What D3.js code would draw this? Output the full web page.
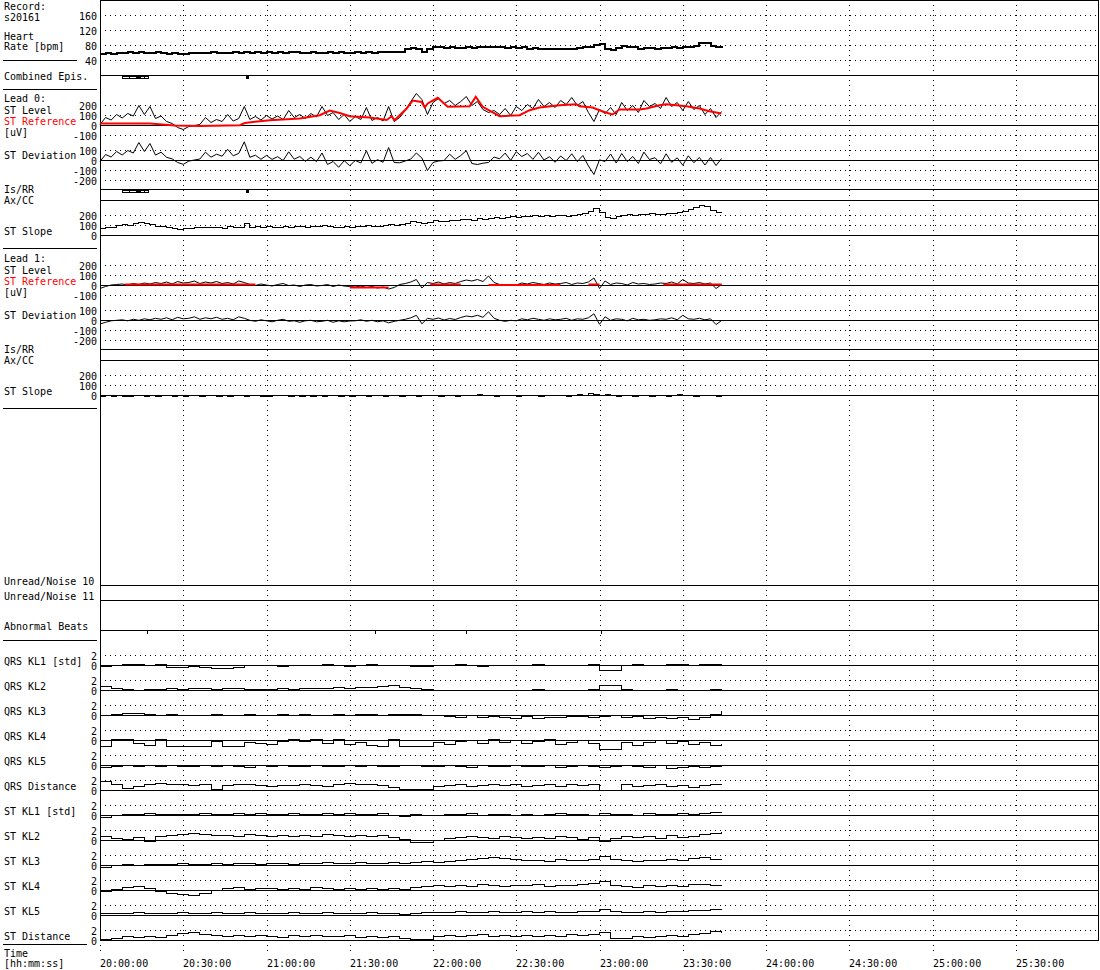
<!DOCTYPE html>
<html><head><meta charset="utf-8">
<script src="https://cdn.jsdelivr.net/npm/d3@7/dist/d3.min.js"></script>
<style>
body{margin:0;background:#fff}
svg{display:block}
text{font-family:"DejaVu Sans Mono","Liberation Mono",monospace;font-size:10px;fill:#000}
</style></head><body>
<svg id="c" width="1100" height="970"></svg>
<script>
// ---------------- data ----------------
const recordName = "s20161";
const timeLabels = ["20:00:00","20:30:00","21:00:00","21:30:00","22:00:00","22:30:00","23:00:00","23:30:00","24:00:00","24:30:00","25:00:00","25:30:00"];
const timeMinutes = [0,30,60,90,120,150,180,210,240,270,300,330];
const hrTicks = [160,120,80,40];
const levelTicks = [200,100,0,-100];
const devTicks = [100,0,-100,-200];
const slopeTicks = [200,100,0];
const klTicks = [2,0];

const STEP = 2;      // minutes between samples of the main series
const KL_STEP = 4;   // minutes between samples of the KL series

const heartRate = [57,60,58,61,59,62,60,63,61,60, 62,60,58,59,57,58,60,59,61, 60,62,59,61,60,62,61,64,
 60,62,61,63,60,62,61,63,62,61, 60,62,61,60,62,61,63,61,60, 62,61,63,60,62,64,63,62,64,
 70,73,71,64,70,75,75,74,76, 74,73,75,74,76,75,77,76,75, 74,76,73,75,72,73,71,72,70,
 71,70,72,71,73,75,76,82,84, 72,67,74,79,75,77,72,74,73, 72,74,73,75,74,76,75,78,86, 88,79,77,74];

const lead0Level = [10,80,55,110,75,120,95,200,110,190, 70,95,40,20,-20,-40,-10,0,10, 80,30,60,40,110,45,70,190,
 60,90,55,100,65,95,60,150,80,110, 70,120,85,190,100,130,60,110,40, 90,60,180,50,80,45,190,40,80,
 150,240,320,260,110,230,270,220,250, 200,240,290,200,240,160,130,150,110, 170,100,190,150,210,170,260,190,230,
 180,250,210,280,200,240,130,40,160, 120,180,110,230,150,200,130,250,190, 220,170,280,190,230,150,240,160,200, 110,170,80,140];
const lead0Dev = [-10,60,35,90,55,100,75,180,90,170, 54,83,32,16,-20,-38,-6,5,15, 83,33,63,43,112,47,71,187,
 32,53,12,51,11,38,0,87,13,40, -8,33,-11,75,-40,-10,-68,-2,-52, 1,-25,98,-28,8,-17,130,-20,-23,
 -5,15,75,25,-100,-20,-5,0,63, 12,50,98,-30,-40,-27,-20,35,17, 74,1,88,40,70,12,82,5,38,
 -18,45,0,67,-10,50,-54,-140,7, -10,65,-25,70,-10,40,-30,84,10, 28,-33,67,-18,27,-47,47,-22,30, -45,30,-50,20];
const lead0Slope = [75,85,80,100,110,105,120,130,125,110, 95,90,80,70,65,70,75,80,80, 85,80,85,75,90,80,85,120,
 85,90,80,95,85,80,90,85,95,90, 85,95,90,100,90,85,80,90,85, 90,95,100,90,95,100,110,100,110,
 125,140,130,125,135,150,140,145,155, 150,160,165,155,170,160,175,180,170, 185,190,180,195,190,200,195,205,195,
 200,205,195,200,210,220,240,275,230, 180,170,190,200,210,205,215,210,220, 215,210,225,220,230,240,260,280,300, 290,250,230,225];
const lead0RefMin = [0,18,27,36,50.4,52.2,55.8,61.2,72,79.2,82.8,86.4,90,97.2,103.3,105.1,106.2,108,110.5,112.7,115.9,117,118.1,121.7,125.3,133.2,135.4,137.9,144,151.2,154.8,158.4,165.6,171.7,172.8,177.5,180,182.5,184.7,187.2,194.4,196.9,201.6,204.1,211.3,216,219.6,223.9];
const lead0RefVal = [20,20,0,-5,3,25,37,53,70,103,150,125,92,80,55,92,53,103,170,250,235,180,220,277,187,193,287,187,93,103,153,180,203,213,193,180,153,127,110,160,160,170,203,213,193,170,143,120];

const lead1Level = [-30,-10,5,10,15,5,20,10,25,15, 30,20,35,15,40,25,30,45,20, 35,25,40,20,30,15,45,30,
 10,0,15,5,-5,10,20,0,5,-10, 5,10,-5,0,10,-10,5,-5,-10, -15,-5,-20,-10,-25,-15,-35,-20,10,
 20,35,60,-25,30,20,35,15,30, 20,40,55,45,60,40,95,30,10, 0,10,5,25,15,30,20,10,25,
 15,20,30,10,25,20,35,75,-30, 45,10,25,20,5,30,15,20,10, 15,25,20,35,15,60,25,20,30, 15,25,-30,10];
const lead1Dev = [-35,-18,-3,2,7,-3,12,2,17,7, 22,12,27,7,32,17,22,37,12, 27,17,32,12,22,7,37,22,
 2,-8,7,-3,-13,2,12,-8,-3,-18, -3,2,-13,-8,2,-18,-3,-13,-5, -3,7,-8,2,-13,-3,-23,-8,2,
 12,27,52,-33,22,12,25,5,20, 10,30,45,37,52,32,87,22,2, -8,2,-3,17,7,22,12,2,17,
 7,12,22,2,17,12,27,67,-38, 37,2,17,12,-3,22,7,12,2, 7,17,12,27,7,52,17,12,22, 7,17,-40,0];
const lead1Slope = [-5,0,-10,5,-5,-10,0,5,-5,0, -10,0,5,-5,0,-10,5,0,-5, 0,5,-5,0,-10,0,5,-5,
 0,5,-5,-10,0,5,0,-5,5,-10, 0,-5,5,-10,0,5,-5,0,-10, 5,0,-5,0,5,-5,0,5,-5,
 0,5,-5,0,5,0,-10,5,0, -5,0,5,0,10,5,0,-5,5, 0,5,-5,0,5,0,-5,5,0,
 5,0,-5,5,10,5,20,15,0, 15,5,-10,0,5,-5,5,0,-5, 0,5,-5,0,10,5,0,-5,5, 0,5,-10,0];
const lead1RefMin = [9,30,56, 56.5, 90,104, 104.5, 119,130, 130.5, 140,166, 166.5, 176,180, 180.5, 203,224];
const lead1RefVal = [10,10,10, null, -20,-20, null, 10,10, null, 5,5, null, 10,10, null, 10,10];

const episodeStart = [7.9,10.6,14.4,16.0];
const episodeEnd   = [10.6,13.3,16.0,17.6];
const markStart = [13.3,52.6];
const markEnd   = [14.4,53.6];
const abnormalBeats = [16.9,99.0,131.8,180.7];

const klNames = ["QRS KL1 [std]","QRS KL2","QRS KL3","QRS KL4","QRS KL5","QRS Distance",
                 "ST KL1 [std]","ST KL2","ST KL3","ST KL4","ST KL5","ST Distance"];
const qrsKL1 = [-0.2,0.1,0.3,0.2,0.1,0.2,-0.3,-0.4,-0.2,-0.3,-0.5,-0.6,-0.3,0,0.1,0,-0.1,0,0.1,0,0.2,0.1,-0.1,0,0.2,0.1,0,0.1,-0.1,-0.2,0.1,0,0.2,0.1,-0.1,0,0.1,0,0.1,0.2,0,0.1,0,0.1,0.2,-1.0,-1.0,0.1,0.2,0,0.1,0.2,0.3,0.1,0.2,0.3,0.3];
const qrsKL2 = [0.8,0.4,0.2,0.1,0.2,0.3,0.4,0.3,0.5,0.4,0.3,0.4,0.5,0.3,0.2,0.3,0.4,0.3,0.4,0.5,0.4,0.6,0.5,0.6,0.7,0.9,1.1,0.6,0.4,0.2,0.1,0,0.1,0,0.1,0,0.1,0,0.1,0.2,0,0.1,0,0.1,0.3,1.1,1.0,0.2,0.1,0,0.1,0.2,0.1,0,0.1,0.2,0.1];
const qrsKL3 = [0,0.2,0.5,0.4,0.2,0.1,0.2,0.1,0,0.1,0.2,0,0.1,0.2,0.1,0,0.2,0.1,0.3,0.1,0,0.2,0.1,0.3,0.2,0.1,0.2,0.3,0.2,0.1,0,-0.2,-0.3,0,-0.4,-0.1,-0.3,-0.5,-0.2,-0.6,-0.3,-0.4,-0.1,-0.2,-0.3,-0.2,0.1,-0.3,-0.2,-0.5,-0.3,-0.6,-0.4,-0.8,-0.3,0.2,0.9];
const qrsKL4 = [-1.1,0.3,0.2,-0.6,-0.9,0.3,-1.2,-1.2,-1.2,-1.2,-0.2,-1.2,-1.2,-0.3,-0.6,-0.8,-0.2,0.2,-0.1,0.3,-0.6,0.2,-0.8,-0.4,-0.9,-1.1,0.3,-1.2,-1.2,-1.2,-0.3,-0.7,-0.2,0.1,-0.5,0.2,-0.4,0,-0.6,-0.2,0.3,-0.8,-0.3,0.1,-0.5,-1.7,-1.7,-0.4,-0.9,-0.3,0.1,-0.6,-0.2,-0.8,-0.4,-1.0,-0.6];
const qrsKL5 = [-0.3,-0.1,0,-0.2,0,-0.1,0,-0.2,-0.1,0,-0.2,0,-0.1,-0.3,0,-0.1,0,-0.2,-0.1,0,-0.1,-0.2,0,-0.1,0,-0.2,-0.1,0,0,-0.1,-0.2,0,-0.1,-0.3,0,-0.2,-0.1,0,-0.2,-0.1,0,-0.3,-0.1,0,-0.2,-0.4,-0.2,0,-0.1,-0.3,0,-0.5,-0.3,-0.1,-0.4,-0.2,-0.1];
const qrsDist = [1.8,1.2,0.4,0.8,1.2,1.4,1.3,1.2,1.1,1.3,0.2,1.1,1.3,1.2,1.0,0.9,1.1,1.0,1.2,1.1,0.9,1.2,1.4,1.2,1.3,1.0,0.7,0.3,0.2,0.3,0.8,1.0,1.2,0.9,1.1,1.3,1.0,1.2,0.8,1.1,1.3,0.9,1.2,1.0,1.3,0.1,0.1,1.2,0.9,1.1,1.2,0.8,1.0,0.7,1.1,1.3,1.2];
const stKL1 = [-0.3,0,0.2,0.3,0.4,0.3,0.2,0.3,0.2,0.4,0.3,0.2,0.4,0.3,0.5,0.3,0.2,0.4,0.3,0.2,0.4,0.3,0.5,0.2,0.3,0.4,0.1,-0.2,0.2,0.1,0,0.3,0.2,0.4,0.1,0.3,0.2,0,0.3,0.1,0.2,0.4,0.3,0.2,0.1,0.5,0.2,0.3,0.1,0.4,0.2,0.3,0.5,0.2,0.4,0.6,0.6];
const stKL2 = [0.8,0.5,0.3,0.6,-0.2,0.9,1.1,1.3,1.4,1.2,1.0,1.1,0.9,1.2,1.0,0.9,1.1,0.8,1.0,0.9,1.2,1.0,0.8,1.1,0.9,1.0,0.7,0.2,-0.4,-0.3,0.1,0.4,0.6,0.9,0.7,0.5,0.8,0.6,0.4,0.7,0.5,0.8,0.6,0.3,0.7,-0.2,0.5,0.9,0.6,0.8,0.5,1.0,0.7,0.9,1.2,1.5,1.8];
const stKL3 = [-0.3,0.1,0.2,0.1,0.2,0.3,0.2,0.4,0.3,0.2,0.4,0.3,0.5,0.4,0.3,0.5,0.4,0.3,0.5,0.4,0.6,0.5,0.4,0.6,0.5,0.4,0.6,0.5,0.7,0.8,0.7,0.9,1.0,1.3,1.5,1.7,1.4,1.2,1.0,1.1,0.9,1.2,1.0,1.1,1.3,1.8,1.2,1.0,0.9,1.1,1.0,1.2,1.1,1.4,1.6,1.3,1.2];
const stKL4 = [-0.2,0.2,0.6,0.9,0.5,-0.2,-0.5,-0.8,-0.9,-0.6,0.1,0.4,0.6,0.3,0.5,0.4,0.2,0.5,0.3,0.6,0.4,0.2,0.5,0.3,0.4,0.2,0.5,0.3,0.6,0.8,1.0,0.9,1.1,0.8,1.2,1.0,0.9,1.1,1.0,1.2,0.9,1.1,1.0,1.2,1.5,1.8,1.0,0.9,0.7,1.0,0.8,1.1,0.9,1.2,1.3,1.0,1.2];
const stKL5 = [0.4,0.5,0.4,0.6,0.5,0.4,0.5,0.6,0.4,0.5,0.6,0.5,0.4,0.6,0.5,0.4,0.5,0.6,0.5,0.4,0.6,0.5,0.4,0.5,0.6,0.5,0.4,0.3,0.5,0.6,0.7,0.6,0.8,0.7,0.6,0.8,0.7,0.6,0.8,0.7,0.9,0.7,0.6,0.8,0.9,1.3,0.8,0.7,0.6,0.8,0.7,0.9,0.8,1.0,1.1,1.2,1.1];
const stDist = [0.3,0.5,0.8,0.6,0.9,0.7,1.1,1.4,1.6,1.3,1.0,0.9,1.1,0.8,1.0,0.9,0.7,1.0,0.8,1.1,0.9,0.8,1.0,0.7,0.9,0.6,0.8,0.4,0.2,0.3,0.8,1.0,0.9,1.1,1.2,0.9,1.0,0.8,1.1,0.9,1.0,0.8,1.2,1.0,1.3,1.7,0.5,0.4,0.8,0.7,0.9,1.0,0.8,1.2,1.5,1.8,1.6];
const klSeries = [qrsKL1,qrsKL2,qrsKL3,qrsKL4,qrsKL5,qrsDist,stKL1,stKL2,stKL3,stKL4,stKL5,stDist];

// ---------------- drawing ----------------
const svg = d3.select("#c");
svg.append("rect").attr("width",1100).attr("height",970).attr("fill","#fff");
const x = d3.scaleLinear().domain([0,360]).range([100,1099]);
const X0 = 100, X1 = 1099;
const gGrid = svg.append("g").attr("shape-rendering","crispEdges");
const gData = svg.append("g");
const gText = svg.append("g");

function hline(y, dotted, x1 = X0, x2 = X1) {
  const l = gGrid.append("line").attr("x1",x1).attr("x2",x2).attr("y1",y).attr("y2",y)
    .attr("stroke","#000").attr("stroke-width",1);
  if (dotted) l.attr("stroke-dasharray","1,4");
  return l;
}
function vline(xx, y1, y2, dotted) {
  const l = gGrid.append("line").attr("x1",xx).attr("x2",xx).attr("y1",y1).attr("y2",y2)
    .attr("stroke","#000").attr("stroke-width",1);
  if (dotted) l.attr("stroke-dasharray","1,4");
}
function label(t, xx, y, color, anchor) {
  gText.append("text").attr("x",xx).attr("y",y).attr("text-anchor",anchor||"start")
    .style("fill",color||"#000").text(t);
}
function tickLabels(ticks, sc) {
  ticks.forEach(v => {
    const yy = sc(v);
    hline(yy, v !== 0);
    label(String(v), 97, yy + 4, "#000", "end");
  });
}
function trace(values, step, sc, opts) {
  opts = opts || {};
  const line = d3.line().curve(opts.step ? d3.curveStepAfter : d3.curveLinear)
    .x((d,i) => x(i*step)).y(d => sc(d));
  gData.append("path").datum(values).attr("d", line)
    .attr("fill","none").attr("stroke","#000").attr("stroke-width",opts.width||1)
    .attr("shape-rendering", opts.step ? "crispEdges" : "auto");
}
function refLine(mins, vals, sc) {
  const pts = mins.map((m,i) => [m, vals[i]]);
  const line = d3.line().defined(d => d[1] !== null).x(d => x(d[0])).y(d => sc(d[1]));
  gData.append("path").datum(pts).attr("d", line)
    .attr("fill","none").attr("stroke","#ff0000").attr("stroke-width",2);
}

// vertical time grid
timeMinutes.forEach(m => {
  const xx = Math.round(x(m)) + 0.5;
  if (m === 0) vline(xx, 940, 951, true);
  else vline(xx, 0, 951, true);
});

// frame
vline(100.5, 0, 941, false);
vline(1098.5, 0, 941, false);
hline(0.5, false);
hline(940.5, false);

// Heart rate
const hrY = d3.scaleLinear().domain([0,200]).range([75.5,0.5]);
hrTicks.forEach(v => { hline(hrY(v), true); label(String(v), 97, hrY(v)+4, "#000", "end"); });
hline(75.5, false);
label("Record:", 4, 10); label(recordName, 4, 20.5);
label("Heart", 4, 39.5); label("Rate [bpm]", 4, 50);
hline(60.5, false, 3, 77);
trace(heartRate, STEP, hrY, {step: true, width: 2});

// Combined episodes
label("Combined Epis.", 4, 80);
hline(89.5, false, 3, 97);
function episodes(top) {
  episodeStart.forEach((s,i) => {
    gData.append("rect").attr("x", Math.round(x(s))+0.5).attr("y", top+0.5)
      .attr("width", Math.max(1, Math.round(x(episodeEnd[i]) - x(s))))
      .attr("height", 2).attr("fill","#fff").attr("stroke","#000").attr("shape-rendering","crispEdges");
  });
  markStart.forEach((s,i) => {
    gData.append("rect").attr("x", Math.round(x(s))).attr("y", top)
      .attr("width", Math.max(2, Math.round(x(markEnd[i]) - x(s)))).attr("height", 3)
      .attr("fill","#000").attr("shape-rendering","crispEdges");
  });
}
episodes(76);

// Lead blocks
function leadBlock(o, name, level, dev, slope, refMin, refVal, showEpis) {
  const lvlY = d3.scaleLinear().domain([0,100]).range([125.5+o,115.5+o]);
  const devY = d3.scaleLinear().domain([0,100]).range([160.5+o,150.5+o]);
  const slpY = d3.scaleLinear().domain([0,100]).range([235.5+o,225.5+o]);
  tickLabels(levelTicks, lvlY);
  tickLabels(devTicks, devY);
  tickLabels(slopeTicks, slpY);
  hline(189.5+o, false);
  hline(200.5+o, false);
  label(name, 4, 101.5+o);
  label("ST Level", 4, 114+o);
  label("ST Reference", 4, 125+o, "#ff0000");
  label("[uV]", 4, 135.5+o);
  label("ST Deviation", 4, 159+o);
  label("Is/RR", 4, 193+o);
  label("Ax/CC", 4, 204+o);
  label("ST Slope", 4, 234.5+o);
  hline(248.5+o, false, 3, 97);
  trace(level, STEP, lvlY);
  trace(dev, STEP, devY);
  trace(slope, STEP, slpY, {step: true});
  refLine(refMin, refVal, lvlY);
  if (showEpis) episodes(190+o);
}
leadBlock(0, "Lead 0:", lead0Level, lead0Dev, lead0Slope, lead0RefMin, lead0RefVal, true);
leadBlock(160, "Lead 1:", lead1Level, lead1Dev, lead1Slope, lead1RefMin, lead1RefVal, false);

// Noise / abnormal beats
hline(585.5, false); hline(600.5, false); hline(630.5, false);
label("Unread/Noise 10", 4, 584.5);
label("Unread/Noise 11", 4, 599.5);
label("Abnormal Beats", 4, 629.5);
hline(640.5, false, 3, 97);
abnormalBeats.forEach(m => {
  const xx = Math.round(x(m)) + 0.5;
  gGrid.append("line").attr("x1",xx).attr("x2",xx).attr("y1",630).attr("y2",634)
    .attr("stroke","#000").attr("stroke-width",1);
});

// KL rows
klNames.forEach((nm, k) => {
  const z = 665.5 + 25*k;
  const sc = d3.scaleLinear().domain([0,2]).range([z, z-10]);
  klTicks.forEach(v => { hline(sc(v), v !== 0); label(String(v), 97, sc(v)+4, "#000", "end"); });
  label(nm, 4, z - 1);
  trace(klSeries[k], KL_STEP, sc, {step: true});
});

// Time axis
hline(944.5, false, 3, 87);
label("Time", 4, 957);
label("[hh:mm:ss]", 4, 966.5);
timeLabels.forEach((t,i) => label(t, Math.round(x(timeMinutes[i])), 967));
</script>
</body></html>
